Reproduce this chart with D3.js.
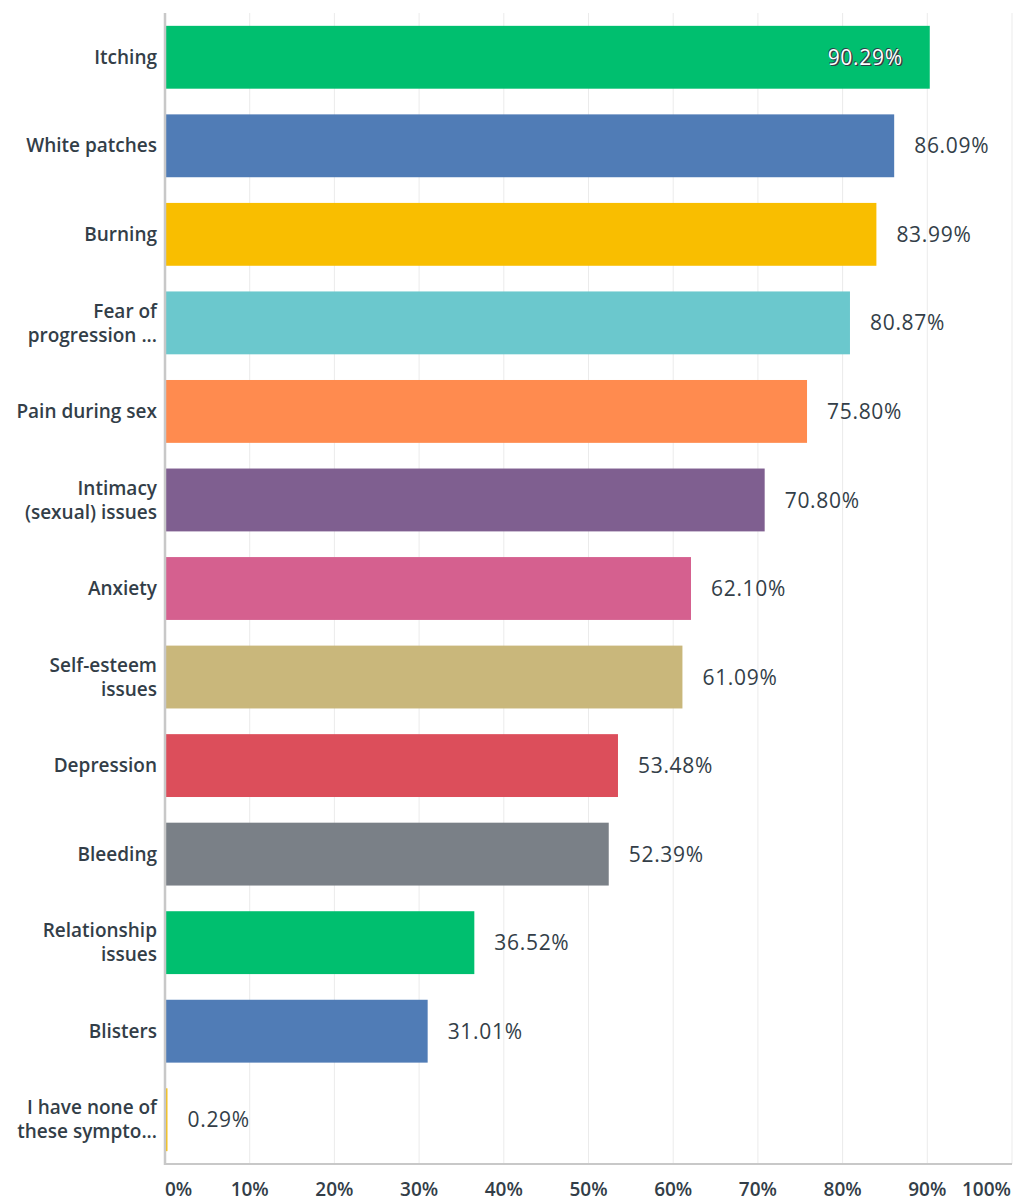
<!DOCTYPE html>
<html><head><meta charset="utf-8">
<script src="https://cdn.jsdelivr.net/npm/d3@7"></script>
<style>
body{margin:0;background:#fff;}
text{font-family:"Open Sans",sans-serif;}
</style></head>
<body>
<svg id="chart" width="1013" height="1203"></svg>
<script>
const categories = [
  ["Itching"],
  ["White patches"],
  ["Burning"],
  ["Fear of","progression ..."],
  ["Pain during sex"],
  ["Intimacy","(sexual) issues"],
  ["Anxiety"],
  ["Self-esteem","issues"],
  ["Depression"],
  ["Bleeding"],
  ["Relationship","issues"],
  ["Blisters"],
  ["I have none of","these sympto..."]
];
const values = [90.29, 86.09, 83.99, 80.87, 75.80, 70.80, 62.10, 61.09, 53.48, 52.39, 36.52, 31.01, 0.29];
const colors = ["#00bf6f","#507cb6","#f9be00","#6bc8cd","#ff8b4f","#7f5f90","#d5608f","#c9b77b","#dc4e5b","#7a8087","#00bf6f","#507cb6","#f9be00"];
const tickValues = [0,10,20,30,40,50,60,70,80,90,100];
const tickLabels = ["0%","10%","20%","30%","40%","50%","60%","70%","80%","90%","100%"];

(function(){
const svg = d3.select("#chart");
const mLeft = 165, mRight = 1012, mTop = 13, mBottom = 1164;
const x = d3.scaleLinear().domain([0,100]).range([mLeft,mRight]);
const y = d3.scaleBand().domain(d3.range(categories.length)).range([mTop,mBottom]).paddingInner(0.29).paddingOuter(0.145);
const textColor = "#333e48";

// gridlines
svg.append("g").selectAll("line").data(tickValues.slice(1)).join("line")
  .attr("x1", d=>x(d)).attr("x2", d=>x(d)).attr("y1", mTop).attr("y2", mBottom)
  .attr("stroke", "#ebebeb").attr("stroke-width", 1);

// bars
svg.append("g").selectAll("rect").data(values).join("rect")
  .attr("x", x(0)).attr("y", (d,i)=>y(i))
  .attr("width", d=>x(d)-x(0)).attr("height", y.bandwidth())
  .attr("fill", (d,i)=>colors[i]);

// axes lines
svg.append("line").attr("x1", mLeft).attr("x2", mLeft).attr("y1", mTop).attr("y2", mBottom+1)
  .attr("stroke", "#c8c8c8").attr("stroke-width", 2.5);
svg.append("line").attr("x1", mLeft).attr("x2", mRight).attr("y1", mBottom).attr("y2", mBottom)
  .attr("stroke", "#c8c8c8").attr("stroke-width", 2);

// category labels
const catG = svg.append("g");
categories.forEach((lines,i)=>{
  const cy = y(i) + y.bandwidth()/2;
  const lh = 24;
  const t = catG.append("text").attr("text-anchor","end")
    .attr("font-size", 19).attr("font-weight", 600).attr("fill", textColor);
  lines.forEach((ln,j)=>{
    t.append("tspan").attr("x", 157)
      .attr("y", cy + (j - (lines.length-1)/2)*lh)
      .attr("dy","0.35em").text(ln);
  });
});

// value labels
const fmt = d=>d.toFixed(2)+"%";
values.forEach((v,i)=>{
  const cy = y(i) + y.bandwidth()/2;
  const inside = x(v) + 20 + 80 > 1013;
  const t = svg.append("text")
    .attr("y", cy).attr("dy","0.36em")
    .attr("font-size", 21).attr("font-weight", 500)
    .attr("letter-spacing", 0.7)
    .text(fmt(v));
  if(inside){
    t.attr("x", x(v)-27).attr("text-anchor","end")
     .attr("fill","#ffffff")
     .style("text-shadow", "1px 1px 0 #333e48, 1.5px 1.5px 0 #333e48, -0.5px -0.5px 0 #333e48");
  } else {
    t.attr("x", x(v)+20).attr("text-anchor","start").attr("fill", textColor);
  }
});

// x tick labels
svg.append("g").selectAll("text").data(tickValues).join("text")
  .attr("x", (d,i)=> i===0 ? x(d) : (i===tickValues.length-1 ? x(d)-1 : x(d)))
  .attr("text-anchor", (d,i)=> i===0 ? "start" : (i===tickValues.length-1 ? "end" : "middle"))
  .attr("y", 1189).attr("dy","0.35em")
  .attr("font-size", 19).attr("font-weight", 600).attr("fill", textColor)
  .text((d,i)=>tickLabels[i]);
})();
</script>
</body></html>
